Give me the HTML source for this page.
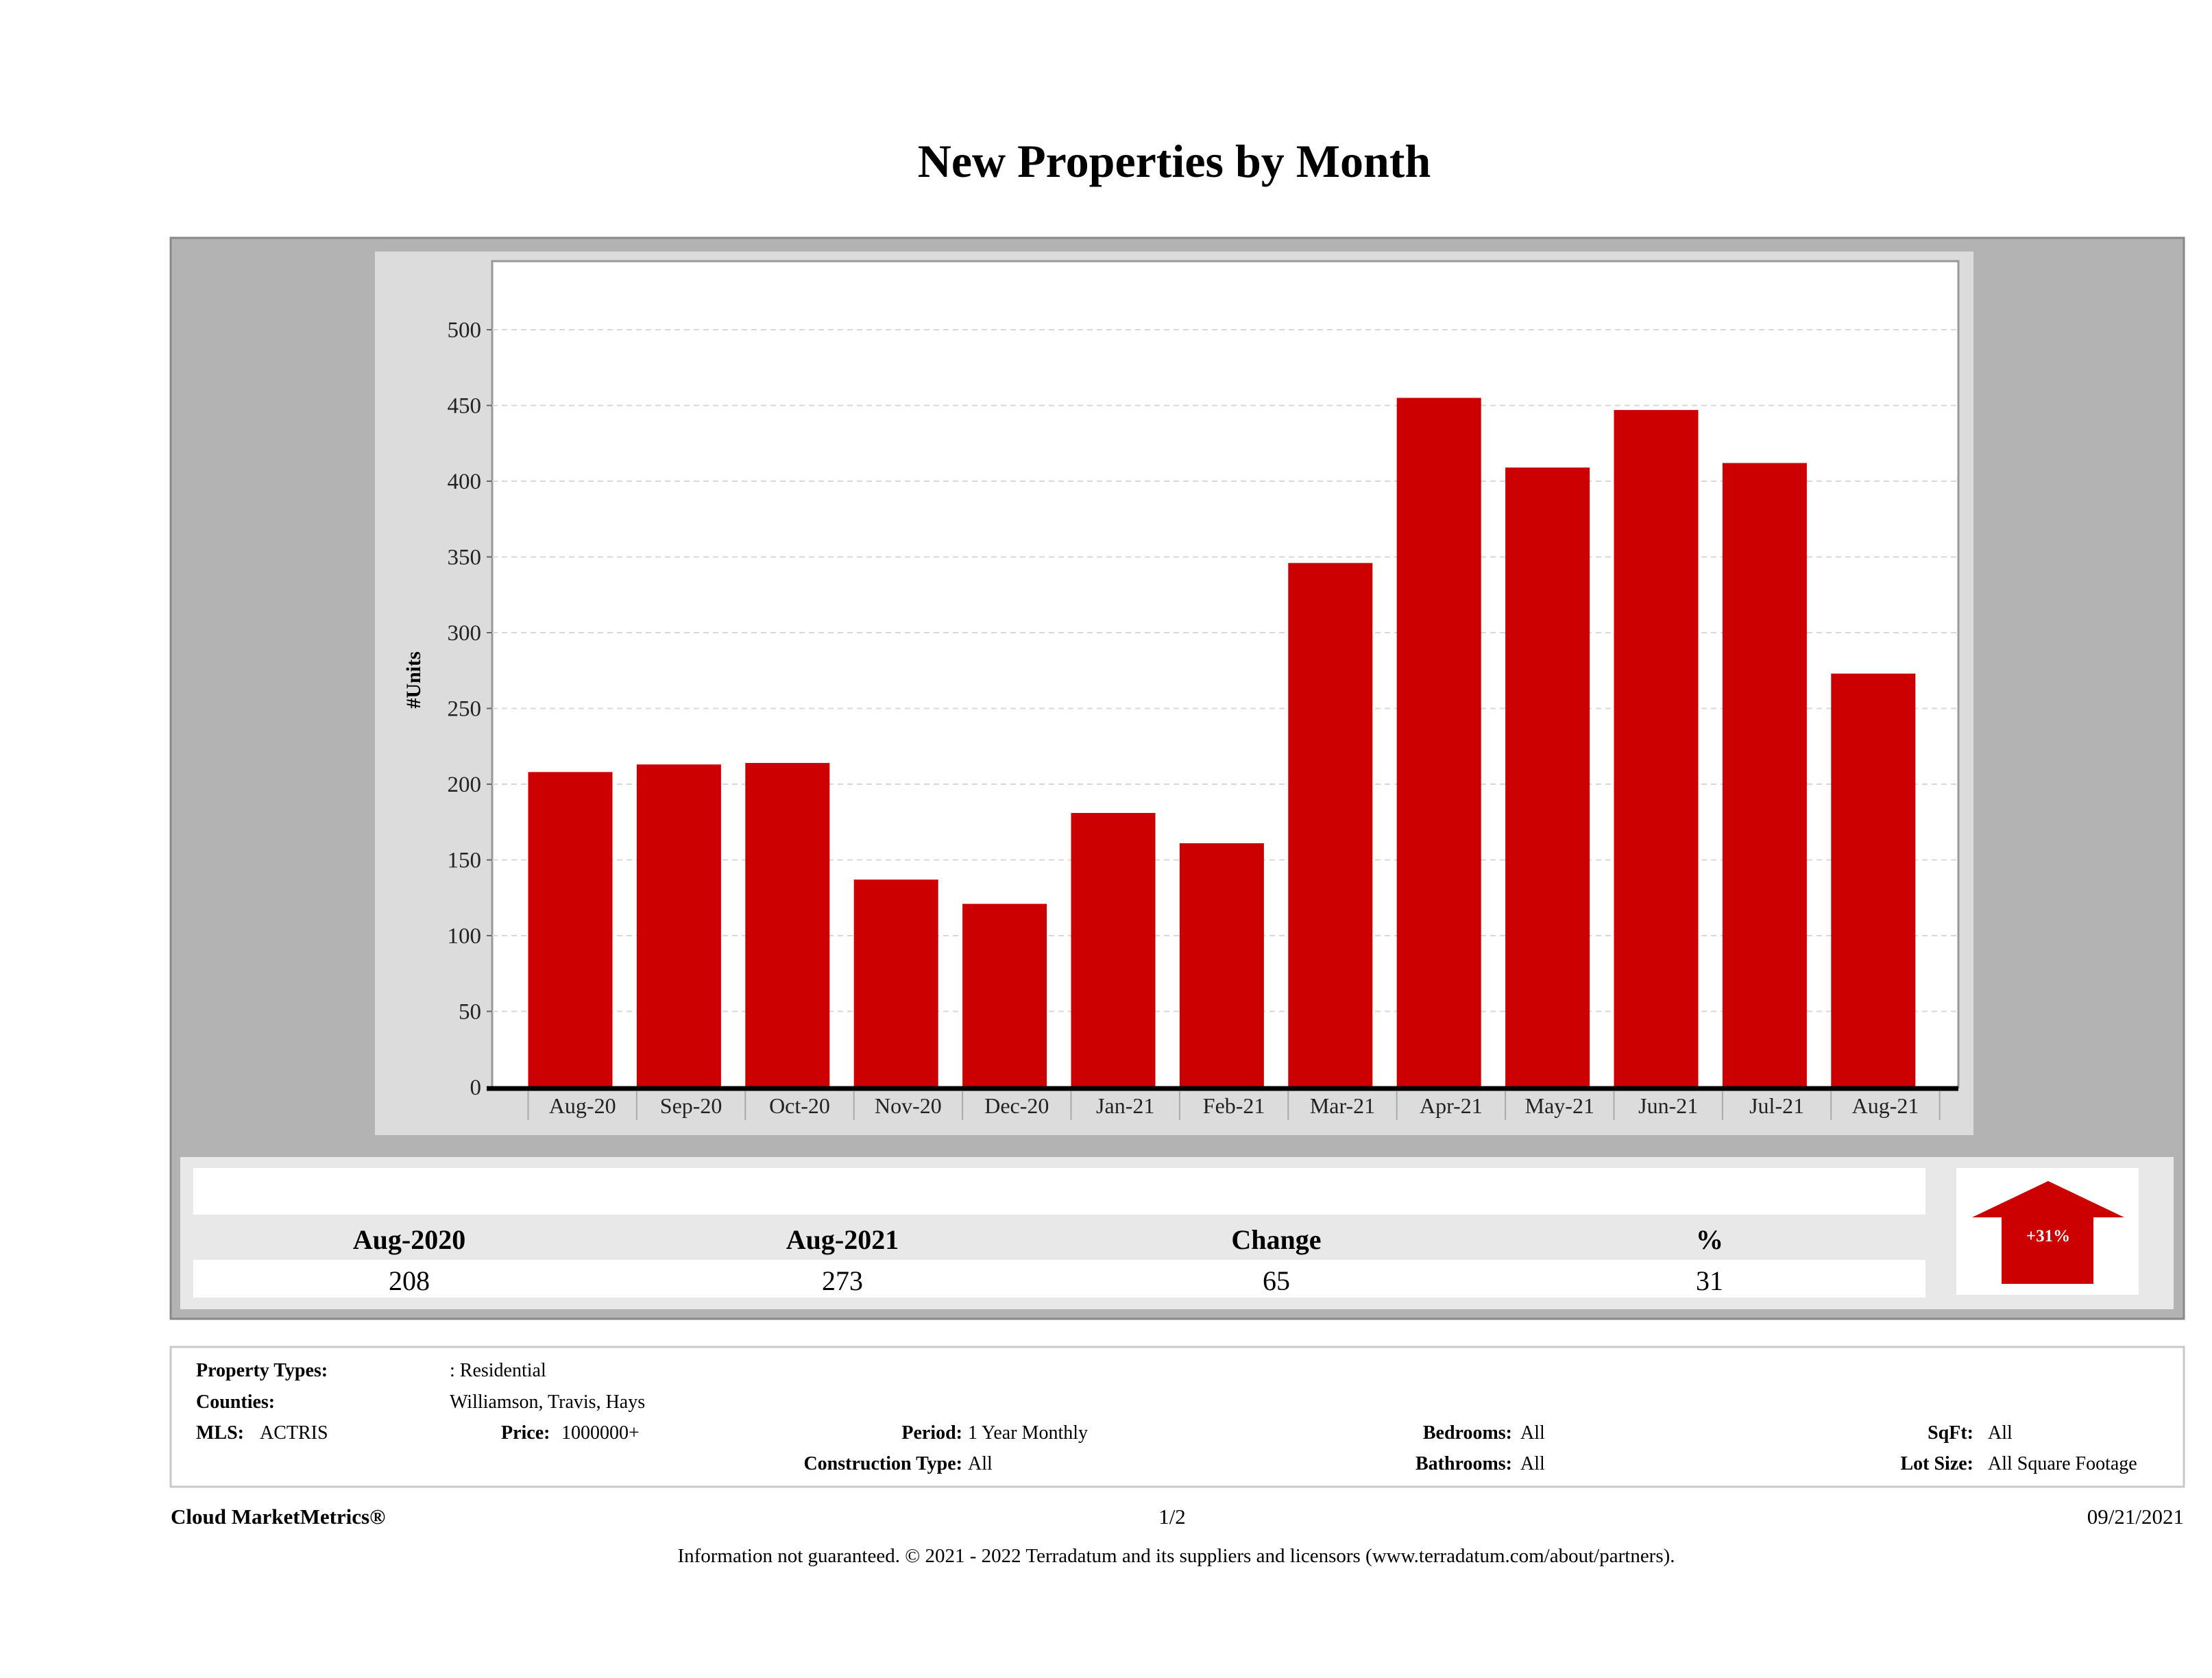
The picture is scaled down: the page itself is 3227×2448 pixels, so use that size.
<!DOCTYPE html>
<html><head><meta charset="utf-8"><style>
html,body{margin:0;padding:0;background:#fff;}
svg{display:block;font-family:"Liberation Serif",serif;}
</style></head><body>
<svg id="page" width="3227" height="2448" viewBox="0 0 3227 2448" xmlns="http://www.w3.org/2000/svg">
<text x="1713" y="258" text-anchor="middle" font-size="68" font-weight="bold" fill="#000">New Properties by Month</text>
<rect x="249" y="347" width="2937" height="1577" fill="#b3b3b3" stroke="#888" stroke-width="3"/>
<rect x="547" y="367" width="2332" height="1289" fill="#dcdcdc"/>
<rect x="718" y="381" width="2139" height="1205" fill="#fff" stroke="#999" stroke-width="3"/>
<g id="grid"></g><g id="bars"></g><g id="axes"></g>
<text transform="translate(613,992) rotate(-90)" text-anchor="middle" font-size="30" font-weight="bold">#Units</text>

<rect x="263" y="1688" width="2908" height="222" fill="#e8e8e8"/>
<rect x="282" y="1704" width="2527" height="68" fill="#fff"/>
<rect x="282" y="1838" width="2527" height="55" fill="#fff"/>
<g font-size="40" text-anchor="middle">
<text x="597" y="1822" font-weight="bold">Aug-2020</text>
<text x="1229" y="1822" font-weight="bold">Aug-2021</text>
<text x="1862" y="1822" font-weight="bold">Change</text>
<text x="2494" y="1822" font-weight="bold">%</text>
<text x="597" y="1882">208</text>
<text x="1229" y="1882">273</text>
<text x="1862" y="1882">65</text>
<text x="2494" y="1882">31</text>
</g>
<rect x="2854" y="1704" width="266" height="185" fill="#fff"/>
<polygon points="2988,1723 3099,1776 3054,1776 3054,1873 2920,1873 2920,1776 2877,1776" fill="#cc0000"/>
<text x="2988" y="1811" text-anchor="middle" font-size="25" font-weight="bold" fill="#fff">+31%</text>

<rect x="249" y="1965" width="2937" height="204" fill="#fff" stroke="#c8c8c8" stroke-width="3"/>
<g font-size="28">
<text x="286" y="2008" font-weight="bold">Property Types:</text>
<text x="656" y="2008">: Residential</text>
<text x="286" y="2054" font-weight="bold">Counties:</text>
<text x="656" y="2054">Williamson, Travis, Hays</text>
<text x="286" y="2099" font-weight="bold">MLS:</text>
<text x="379" y="2099">ACTRIS</text>
<text x="731" y="2099" font-weight="bold">Price:</text>
<text x="819" y="2099">1000000+</text>
<text x="1404" y="2099" font-weight="bold" text-anchor="end">Period:</text>
<text x="1412" y="2099">1 Year Monthly</text>
<text x="2206" y="2099" font-weight="bold" text-anchor="end">Bedrooms:</text>
<text x="2218" y="2099">All</text>
<text x="2879" y="2099" font-weight="bold" text-anchor="end">SqFt:</text>
<text x="2900" y="2099">All</text>
<text x="1404" y="2144" font-weight="bold" text-anchor="end">Construction Type:</text>
<text x="1412" y="2144">All</text>
<text x="2206" y="2144" font-weight="bold" text-anchor="end">Bathrooms:</text>
<text x="2218" y="2144">All</text>
<text x="2879" y="2144" font-weight="bold" text-anchor="end">Lot Size:</text>
<text x="2900" y="2144">All Square Footage</text>
</g>
<g font-size="31">
<text x="249" y="2223" font-weight="bold">Cloud MarketMetrics®</text>
<text x="1710" y="2223" text-anchor="middle">1/2</text>
<text x="3186" y="2223" text-anchor="end">09/21/2021</text>
<text x="1716" y="2279" text-anchor="middle" font-size="29">Information not guaranteed. © 2021 - 2022 Terradatum and its suppliers and licensors (www.terradatum.com/about/partners).</text>
</g>
</svg>
<script>
const categories = ["Aug-20","Sep-20","Oct-20","Nov-20","Dec-20","Jan-21","Feb-21","Mar-21","Apr-21","May-21","Jun-21","Jul-21","Aug-21"];
const unitValues = [208,213,214,137,121,181,161,346,455,409,447,412,273];
const yTicks = [0,50,100,150,200,250,300,350,400,450,500];

const NS = "http://www.w3.org/2000/svg";
const plotL = 718, plotR = 2857, y0 = 1586, pxPerUnit = 2.21;
const firstCenter = 832, step = 158.4, barW = 123;
function yScale(v){ return y0 - v * pxPerUnit; }
function xScale(i){ return firstCenter + i * step; }
function mk(tag, attrs, parent){
  const e = document.createElementNS(NS, tag);
  for (const k in attrs) e.setAttribute(k, attrs[k]);
  parent.appendChild(e); return e;
}
const grid = document.getElementById('grid');
const bars = document.getElementById('bars');
const axes = document.getElementById('axes');

yTicks.forEach(t => {
  const y = yScale(t);
  if (t > 0) {
    const g = mk('line', {x1: plotL, x2: plotR, y1: y, y2: y, stroke: '#d8d8d8', 'stroke-width': 2, 'stroke-dasharray': '8,6'}, grid);
    
    
  }
  const tk = mk('line', {x1: plotL - 8, x2: plotL, y1: y, y2: y, stroke: '#666', 'stroke-width': 2}, axes);
  
  
  const lb = mk('text', {x: plotL - 16, y: y + 11, 'text-anchor': 'end', 'font-size': 33, fill: '#222'}, axes);
  lb.textContent = t;
  
  
});

unitValues.forEach((v, i) => {
  const cx = xScale(i);
  const r = mk('rect', {x: cx - barW/2, y: yScale(v), width: barW, height: v * pxPerUnit, fill: '#cc0000'}, bars);
  
  
});

const ax = mk('line', {x1: plotL - 8, x2: plotR, y1: y0 + 2, y2: y0 + 2, stroke: '#000', 'stroke-width': 7}, axes);



categories.forEach((c, i) => {
  const left = xScale(i) - barW/2;
  const sep = mk('line', {x1: left, x2: left, y1: y0 + 6, y2: y0 + 48, stroke: '#aaa', 'stroke-width': 2}, axes);
  
  
  const t = mk('text', {x: left + step/2, y: y0 + 38, 'text-anchor': 'middle', 'font-size': 32, fill: '#222'}, axes);
  t.textContent = c;
  
  
});
const lastLeft = xScale(categories.length - 1) - barW/2 + step;
const lastSep = mk('line', {x1: lastLeft, x2: lastLeft, y1: y0 + 6, y2: y0 + 48, stroke: '#aaa', 'stroke-width': 2}, axes);


</script>
</body></html>
